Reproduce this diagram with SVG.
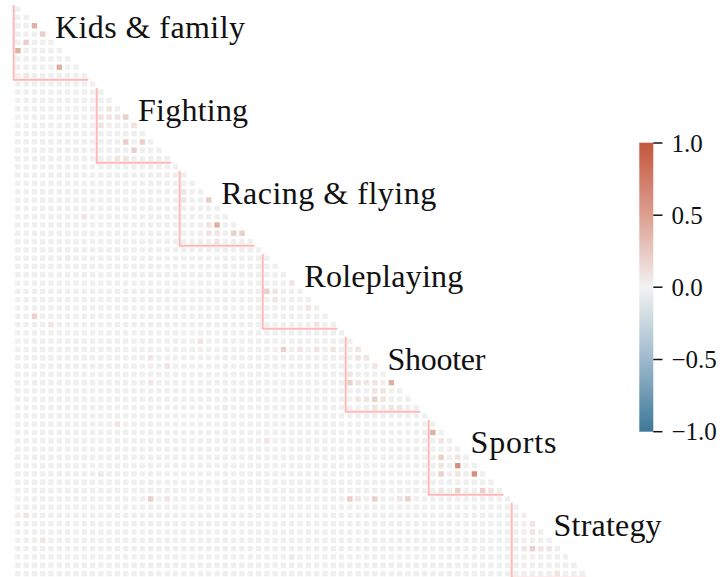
<svg xmlns="http://www.w3.org/2000/svg" width="727" height="577" viewBox="0 0 727 577">
<style>
.row{stroke:#efefef;stroke-width:.64;stroke-dasharray:.64 .36;fill:none}
.p1{fill:#f1e5e2}.p2{fill:#ead0c9}.p3{fill:#e0b0a3}.p4{fill:#d68f7c}.b1{fill:#e7ecef}
.box{fill:none;stroke:#ffb8b8;stroke-width:.24}
.tk{stroke:#111;stroke-width:1.5}
</style>
<defs>
<rect id="c" width=".64" height=".64"/>
<linearGradient id="cb" x1="0" y1="0" x2="0" y2="1">
<stop offset="0" stop-color="#c4553d"/>
<stop offset="0.25" stop-color="#dc9f90"/>
<stop offset="0.5" stop-color="#f2f2f2"/>
<stop offset="0.75" stop-color="#9dbacb"/>
<stop offset="1" stop-color="#3d7899"/>
</linearGradient>
</defs>
<g id="heatmap" transform="translate(13.7 5) scale(8.3)">
<g id="grid" class="row">
<line x1=".18" x2="0.82" y1="0.5" y2="0.5"/>
<line x1=".18" x2="1.82" y1="1.5" y2="1.5"/>
<line x1=".18" x2="2.82" y1="2.5" y2="2.5"/>
<line x1=".18" x2="3.82" y1="3.5" y2="3.5"/>
<line x1=".18" x2="4.82" y1="4.5" y2="4.5"/>
<line x1=".18" x2="5.82" y1="5.5" y2="5.5"/>
<line x1=".18" x2="6.82" y1="6.5" y2="6.5"/>
<line x1=".18" x2="7.82" y1="7.5" y2="7.5"/>
<line x1=".18" x2="8.82" y1="8.5" y2="8.5"/>
<line x1=".18" x2="9.82" y1="9.5" y2="9.5"/>
<line x1=".18" x2="10.82" y1="10.5" y2="10.5"/>
<line x1=".18" x2="11.82" y1="11.5" y2="11.5"/>
<line x1=".18" x2="12.82" y1="12.5" y2="12.5"/>
<line x1=".18" x2="13.82" y1="13.5" y2="13.5"/>
<line x1=".18" x2="14.82" y1="14.5" y2="14.5"/>
<line x1=".18" x2="15.82" y1="15.5" y2="15.5"/>
<line x1=".18" x2="16.82" y1="16.5" y2="16.5"/>
<line x1=".18" x2="17.82" y1="17.5" y2="17.5"/>
<line x1=".18" x2="18.82" y1="18.5" y2="18.5"/>
<line x1=".18" x2="19.82" y1="19.5" y2="19.5"/>
<line x1=".18" x2="20.82" y1="20.5" y2="20.5"/>
<line x1=".18" x2="21.82" y1="21.5" y2="21.5"/>
<line x1=".18" x2="22.82" y1="22.5" y2="22.5"/>
<line x1=".18" x2="23.82" y1="23.5" y2="23.5"/>
<line x1=".18" x2="24.82" y1="24.5" y2="24.5"/>
<line x1=".18" x2="25.82" y1="25.5" y2="25.5"/>
<line x1=".18" x2="26.82" y1="26.5" y2="26.5"/>
<line x1=".18" x2="27.82" y1="27.5" y2="27.5"/>
<line x1=".18" x2="28.82" y1="28.5" y2="28.5"/>
<line x1=".18" x2="29.82" y1="29.5" y2="29.5"/>
<line x1=".18" x2="30.82" y1="30.5" y2="30.5"/>
<line x1=".18" x2="31.82" y1="31.5" y2="31.5"/>
<line x1=".18" x2="32.82" y1="32.5" y2="32.5"/>
<line x1=".18" x2="33.82" y1="33.5" y2="33.5"/>
<line x1=".18" x2="34.82" y1="34.5" y2="34.5"/>
<line x1=".18" x2="35.82" y1="35.5" y2="35.5"/>
<line x1=".18" x2="36.82" y1="36.5" y2="36.5"/>
<line x1=".18" x2="37.82" y1="37.5" y2="37.5"/>
<line x1=".18" x2="38.82" y1="38.5" y2="38.5"/>
<line x1=".18" x2="39.82" y1="39.5" y2="39.5"/>
<line x1=".18" x2="40.82" y1="40.5" y2="40.5"/>
<line x1=".18" x2="41.82" y1="41.5" y2="41.5"/>
<line x1=".18" x2="42.82" y1="42.5" y2="42.5"/>
<line x1=".18" x2="43.82" y1="43.5" y2="43.5"/>
<line x1=".18" x2="44.82" y1="44.5" y2="44.5"/>
<line x1=".18" x2="45.82" y1="45.5" y2="45.5"/>
<line x1=".18" x2="46.82" y1="46.5" y2="46.5"/>
<line x1=".18" x2="47.82" y1="47.5" y2="47.5"/>
<line x1=".18" x2="48.82" y1="48.5" y2="48.5"/>
<line x1=".18" x2="49.82" y1="49.5" y2="49.5"/>
<line x1=".18" x2="50.82" y1="50.5" y2="50.5"/>
<line x1=".18" x2="51.82" y1="51.5" y2="51.5"/>
<line x1=".18" x2="52.82" y1="52.5" y2="52.5"/>
<line x1=".18" x2="53.82" y1="53.5" y2="53.5"/>
<line x1=".18" x2="54.82" y1="54.5" y2="54.5"/>
<line x1=".18" x2="55.82" y1="55.5" y2="55.5"/>
<line x1=".18" x2="56.82" y1="56.5" y2="56.5"/>
<line x1=".18" x2="57.82" y1="57.5" y2="57.5"/>
<line x1=".18" x2="58.82" y1="58.5" y2="58.5"/>
<line x1=".18" x2="59.82" y1="59.5" y2="59.5"/>
<line x1=".18" x2="60.82" y1="60.5" y2="60.5"/>
<line x1=".18" x2="61.82" y1="61.5" y2="61.5"/>
<line x1=".18" x2="62.82" y1="62.5" y2="62.5"/>
<line x1=".18" x2="63.82" y1="63.5" y2="63.5"/>
<line x1=".18" x2="64.82" y1="64.5" y2="64.5"/>
<line x1=".18" x2="65.82" y1="65.5" y2="65.5"/>
<line x1=".18" x2="66.82" y1="66.5" y2="66.5"/>
<line x1=".18" x2="67.82" y1="67.5" y2="67.5"/>
<line x1=".18" x2="68.82" y1="68.5" y2="68.5"/>
</g>
<g id="cells">
<use href="#c" x="2.18" y="2.18" class="p3"/>
<use href="#c" x="3.18" y="3.18" class="p2"/>
<use href="#c" x="1.18" y="4.18" class="p2"/>
<use href="#c" x="0.18" y="5.18" class="p3"/>
<use href="#c" x="5.18" y="7.18" class="p3"/>
<use href="#c" x="1.18" y="8.18" class="p1"/>
<use href="#c" x="10.18" y="13.18" class="p1"/>
<use href="#c" x="10.18" y="14.18" class="p1"/>
<use href="#c" x="11.18" y="13.18" class="p1"/>
<use href="#c" x="12.18" y="13.18" class="p1"/>
<use href="#c" x="13.18" y="13.18" class="p2"/>
<use href="#c" x="14.18" y="14.18" class="p1"/>
<use href="#c" x="13.18" y="16.18" class="p2"/>
<use href="#c" x="15.18" y="16.18" class="p2"/>
<use href="#c" x="14.18" y="17.18" class="p2"/>
<use href="#c" x="13.18" y="18.18" class="p1"/>
<use href="#c" x="12.18" y="18.18" class="p1"/>
<use href="#c" x="11.18" y="12.18" class="p1"/>
<use href="#c" x="20.18" y="22.18" class="p1"/>
<use href="#c" x="20.18" y="23.18" class="p1"/>
<use href="#c" x="23.18" y="23.18" class="p2"/>
<use href="#c" x="23.18" y="26.18" class="p1"/>
<use href="#c" x="24.18" y="26.18" class="p3"/>
<use href="#c" x="23.18" y="27.18" class="p1"/>
<use href="#c" x="24.18" y="27.18" class="p1"/>
<use href="#c" x="26.18" y="27.18" class="p2"/>
<use href="#c" x="27.18" y="27.18" class="p2"/>
<use href="#c" x="24.18" y="28.18" class="p1"/>
<use href="#c" x="30.18" y="34.18" class="p2"/>
<use href="#c" x="31.18" y="34.18" class="p1"/>
<use href="#c" x="31.18" y="35.18" class="p1"/>
<use href="#c" x="33.18" y="33.18" class="p1"/>
<use href="#c" x="35.18" y="36.18" class="p1"/>
<use href="#c" x="36.18" y="38.18" class="p1"/>
<use href="#c" x="2.18" y="37.18" class="p2"/>
<use href="#c" x="4.18" y="38.18" class="p1"/>
<use href="#c" x="32.18" y="41.18" class="p2"/>
<use href="#c" x="34.18" y="41.18" class="p1"/>
<use href="#c" x="36.18" y="41.18" class="p1"/>
<use href="#c" x="38.18" y="41.18" class="p1"/>
<use href="#c" x="16.18" y="42.18" class="p1"/>
<use href="#c" x="16.18" y="45.18" class="p1"/>
<use href="#c" x="18.18" y="43.18" class="p1"/>
<use href="#c" x="41.18" y="41.18" class="p1"/>
<use href="#c" x="41.18" y="42.18" class="p1"/>
<use href="#c" x="42.18" y="42.18" class="p1"/>
<use href="#c" x="43.18" y="43.18" class="p1"/>
<use href="#c" x="40.18" y="44.18" class="p1"/>
<use href="#c" x="40.18" y="45.18" class="p2"/>
<use href="#c" x="41.18" y="45.18" class="p1"/>
<use href="#c" x="42.18" y="45.18" class="p1"/>
<use href="#c" x="43.18" y="45.18" class="p1"/>
<use href="#c" x="45.18" y="45.18" class="p3"/>
<use href="#c" x="43.18" y="46.18" class="p1"/>
<use href="#c" x="44.18" y="46.18" class="p1"/>
<use href="#c" x="41.18" y="47.18" class="p1"/>
<use href="#c" x="42.18" y="47.18" class="p1"/>
<use href="#c" x="43.18" y="47.18" class="p2"/>
<use href="#c" x="44.18" y="47.18" class="p1"/>
<use href="#c" x="43.18" y="48.18" class="p1"/>
<use href="#c" x="45.18" y="48.18" class="p1"/>
<use href="#c" x="46.18" y="48.18" class="p1"/>
<use href="#c" x="50.18" y="51.18" class="p3"/>
<use href="#c" x="51.18" y="52.18" class="p1"/>
<use href="#c" x="51.18" y="54.18" class="p2"/>
<use href="#c" x="53.18" y="54.18" class="p1"/>
<use href="#c" x="51.18" y="55.18" class="p1"/>
<use href="#c" x="53.18" y="55.18" class="p4"/>
<use href="#c" x="51.18" y="56.18" class="p2"/>
<use href="#c" x="53.18" y="56.18" class="p1"/>
<use href="#c" x="55.18" y="56.18" class="p4"/>
<use href="#c" x="51.18" y="58.18" class="p1"/>
<use href="#c" x="53.18" y="58.18" class="p2"/>
<use href="#c" x="56.18" y="58.18" class="p2"/>
<use href="#c" x="57.18" y="58.18" class="p1"/>
<use href="#c" x="47.18" y="59.18" class="p2"/>
<use href="#c" x="46.18" y="59.18" class="p1"/>
<use href="#c" x="43.18" y="59.18" class="p2"/>
<use href="#c" x="41.18" y="59.18" class="p1"/>
<use href="#c" x="40.18" y="59.18" class="p2"/>
<use href="#c" x="16.18" y="59.18" class="p2"/>
<use href="#c" x="18.18" y="59.18" class="p1"/>
<use href="#c" x="1.18" y="61.18" class="p1"/>
<use href="#c" x="3.18" y="64.18" class="p1"/>
<use href="#c" x="62.18" y="62.18" class="p1"/>
<use href="#c" x="62.18" y="63.18" class="p1"/>
<use href="#c" x="61.18" y="65.18" class="p1"/>
<use href="#c" x="62.18" y="65.18" class="p2"/>
<use href="#c" x="63.18" y="65.18" class="p1"/>
<use href="#c" x="64.18" y="65.18" class="p1"/>
<use href="#c" x="65.18" y="68.18" class="p1"/>
<use href="#c" x="8.18" y="25.18" class="p1"/>
<use href="#c" x="22.18" y="40.18" class="p1"/>
<use href="#c" x="12.18" y="50.18" class="p1"/>
<use href="#c" x="30.18" y="52.18" class="p1"/>
<use href="#c" x="6.18" y="30.18" class="b1"/>
<use href="#c" x="25.18" y="48.18" class="b1"/>
<use href="#c" x="33.18" y="66.18" class="b1"/>
<use href="#c" x="10.18" y="56.18" class="b1"/>
</g>
<g id="groups" class="box">
<path d="M0 0V9H9"/>
<path d="M10 10V19H19"/>
<path d="M20 20V29H29"/>
<path d="M30 30V39H39"/>
<path d="M40 40V49H49"/>
<path d="M50 50V59H59"/>
<path d="M60 60V69H69"/>
</g>
</g>
<g id="labels" font-family="'Liberation Serif', serif" font-size="32" fill="#111">
<text x="55" y="37.5" textLength="190">Kids &amp; family</text>
<text x="138.1" y="120.6" textLength="110">Fighting</text>
<text x="221.2" y="203.6" textLength="215">Racing &amp; flying</text>
<text x="304.3" y="286.7" textLength="159">Roleplaying</text>
<text x="387.4" y="369.7" textLength="98">Shooter</text>
<text x="470.5" y="452.8" textLength="86">Sports</text>
<text x="553.6" y="535.8" textLength="108">Strategy</text>
</g>
<g id="colorbar">
<rect x="639.3" y="142.7" width="14" height="289" fill="url(#cb)"/>
<g class="tk">
<line x1="653.3" x2="662.5" y1="143" y2="143"/>
<line x1="653.3" x2="662.5" y1="215.2" y2="215.2"/>
<line x1="653.3" x2="662.5" y1="287.2" y2="287.2"/>
<line x1="653.3" x2="662.5" y1="359.5" y2="359.5"/>
<line x1="653.3" x2="662.5" y1="431.7" y2="431.7"/>
</g>
<g font-family="'Liberation Serif', serif" font-size="25" fill="#111">
<text x="671.5" y="151.5">1.0</text>
<text x="671.5" y="223.6">0.5</text>
<text x="671.5" y="295.6">0.0</text>
<text x="671.5" y="367.9">−0.5</text>
<text x="671.5" y="440.1">−1.0</text>
</g>
</g>
</svg>
